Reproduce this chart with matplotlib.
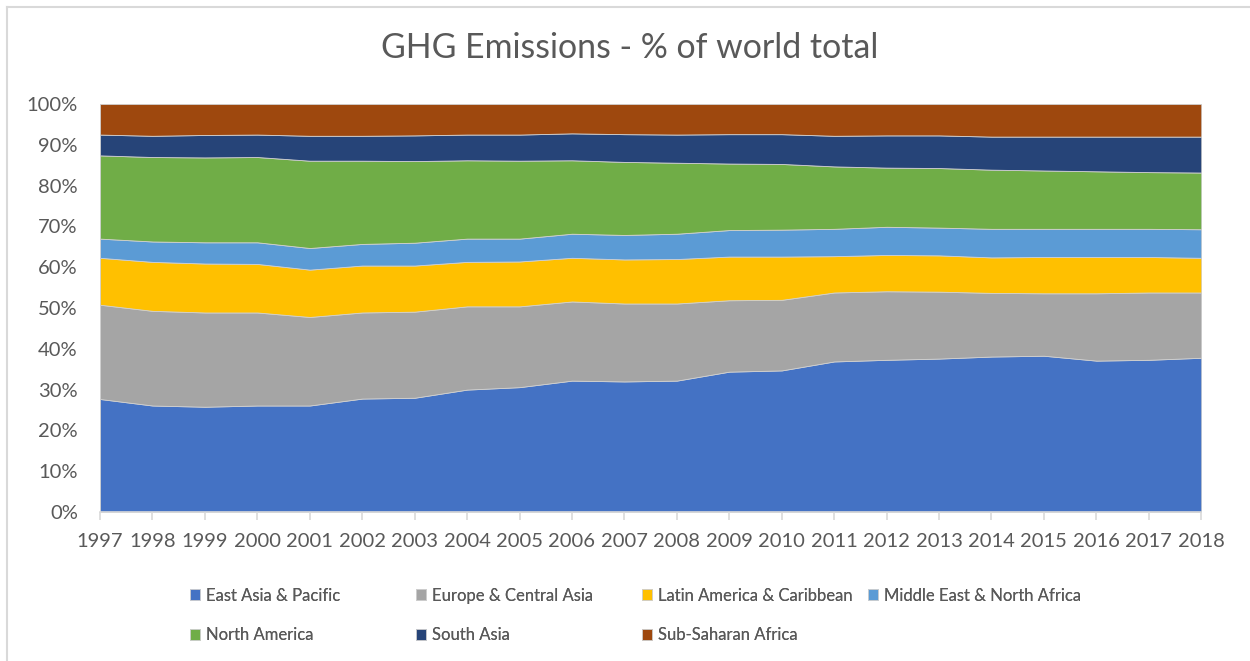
import matplotlib.pyplot as plt
from matplotlib.lines import Line2D
from matplotlib.ticker import PercentFormatter

plt.rcParams['font.family'] = ['Lato', 'DejaVu Sans']

years = list(range(1997, 2019))

# regional share of world GHG emissions, %
east_asia_pacific = [27.7, 26.1, 25.8, 26.1, 26.1, 27.8, 28.0, 30.0, 30.6, 32.2, 32.0,
                     32.2, 34.4, 34.7, 36.9, 37.3, 37.6, 38.1, 38.3, 37.1, 37.3, 37.8]
europe_central_asia = [23.1, 23.2, 23.1, 22.8, 21.7, 21.1, 21.1, 20.4, 19.8, 19.4, 19.1,
                       18.9, 17.5, 17.3, 16.9, 16.8, 16.4, 15.6, 15.3, 16.5, 16.5, 16.0]
latin_america_caribbean = [11.5, 12.0, 12.0, 11.9, 11.6, 11.5, 11.3, 10.9, 11.0, 10.7, 10.8,
                           10.9, 10.7, 10.6, 8.9, 8.9, 8.9, 8.7, 8.9, 8.9, 8.7, 8.5]
middle_east_north_africa = [4.7, 5.0, 5.2, 5.3, 5.3, 5.3, 5.6, 5.7, 5.6, 5.9, 6.0,
                            6.2, 6.5, 6.6, 6.7, 6.9, 6.8, 7.0, 6.9, 6.9, 6.9, 7.0]
north_america = [20.4, 20.7, 20.8, 20.9, 21.4, 20.4, 20.0, 19.2, 19.1, 18.0, 17.9,
                 17.4, 16.3, 16.1, 15.3, 14.5, 14.6, 14.5, 14.3, 14.1, 13.9, 13.9]
south_asia = [5.1, 5.2, 5.5, 5.5, 6.1, 6.1, 6.3, 6.3, 6.4, 6.6, 6.8,
              6.9, 7.2, 7.3, 7.5, 7.9, 8.0, 8.1, 8.3, 8.5, 8.7, 8.8]
sub_saharan_africa = [7.5, 7.8, 7.6, 7.5, 7.8, 7.8, 7.7, 7.5, 7.5, 7.2, 7.4,
                      7.5, 7.4, 7.4, 7.8, 7.7, 7.7, 8.0, 8.0, 8.0, 8.0, 8.0]

labels = ['East Asia & Pacific', 'Europe & Central Asia', 'Latin America & Caribbean',
          'Middle East & North Africa', 'North America', 'South Asia', 'Sub-Saharan Africa']
colors = ['#4472C4', '#A5A5A5', '#FFC000', '#5B9BD5', '#70AD47', '#264478', '#9E480E']

series = [east_asia_pacific, europe_central_asia, latin_america_caribbean,
          middle_east_north_africa, north_america, south_asia, sub_saharan_africa]

text_color = '#595959'

fig = plt.figure(figsize=(12.5, 6.61), dpi=100)
ax = fig.add_axes([0.08, 0.2254, 0.881, 0.6173])

ax.stackplot(years, *series, labels=labels, colors=colors, linewidth=0.6, edgecolor='#d0d0d0')

ax.set_xlim(1997, 2018)
ax.set_ylim(0, 100)
ax.set_xticks(years)
ax.set_yticks(range(0, 101, 10))
ax.yaxis.set_major_formatter(PercentFormatter(decimals=0))

for side in ['top', 'right', 'left']:
    ax.spines[side].set_visible(False)
ax.spines['bottom'].set_color('#d9d9d9')
ax.spines['bottom'].set_linewidth(1.2)
ax.tick_params(axis='x', colors='#d9d9d9', length=6, width=1.2, labelcolor=text_color,
               labelsize=14.5, pad=9)
ax.tick_params(axis='y', length=0, labelcolor=text_color, labelsize=14.5, pad=16)

fig.text(0.504, 0.927, 'GHG Emissions - % of world total', ha='center', va='center',
         fontsize=24.4, color=text_color)

# legend laid out row by row in four equal-width columns
handles, leg_labels = ax.get_legend_handles_labels()
col_x = [190, 416, 642, 868]
for c, x in enumerate(col_x):
    idx = [i for i in (c, c + 4) if i < len(handles)]
    leg = fig.legend([handles[i] for i in idx], [leg_labels[i] for i in idx],
                     loc='upper left', bbox_to_anchor=(x / 1250, 0.111),
                     frameon=False, fontsize=12, labelcolor=text_color,
                     handlelength=0.6, handleheight=0.6, handletextpad=0.35,
                     labelspacing=1.42, borderpad=0, borderaxespad=0)
    fig.add_artist(leg)

# chart frame along the top and left edges
fig.add_artist(Line2D([0.0052, 1.0], [0.990, 0.990], transform=fig.transFigure,
                      color='#d9d9d9', linewidth=1.5))
fig.add_artist(Line2D([0.0052, 0.0052], [0.0, 0.990], transform=fig.transFigure,
                      color='#d9d9d9', linewidth=1.5))

fig.savefig('out.png', dpi=100)
